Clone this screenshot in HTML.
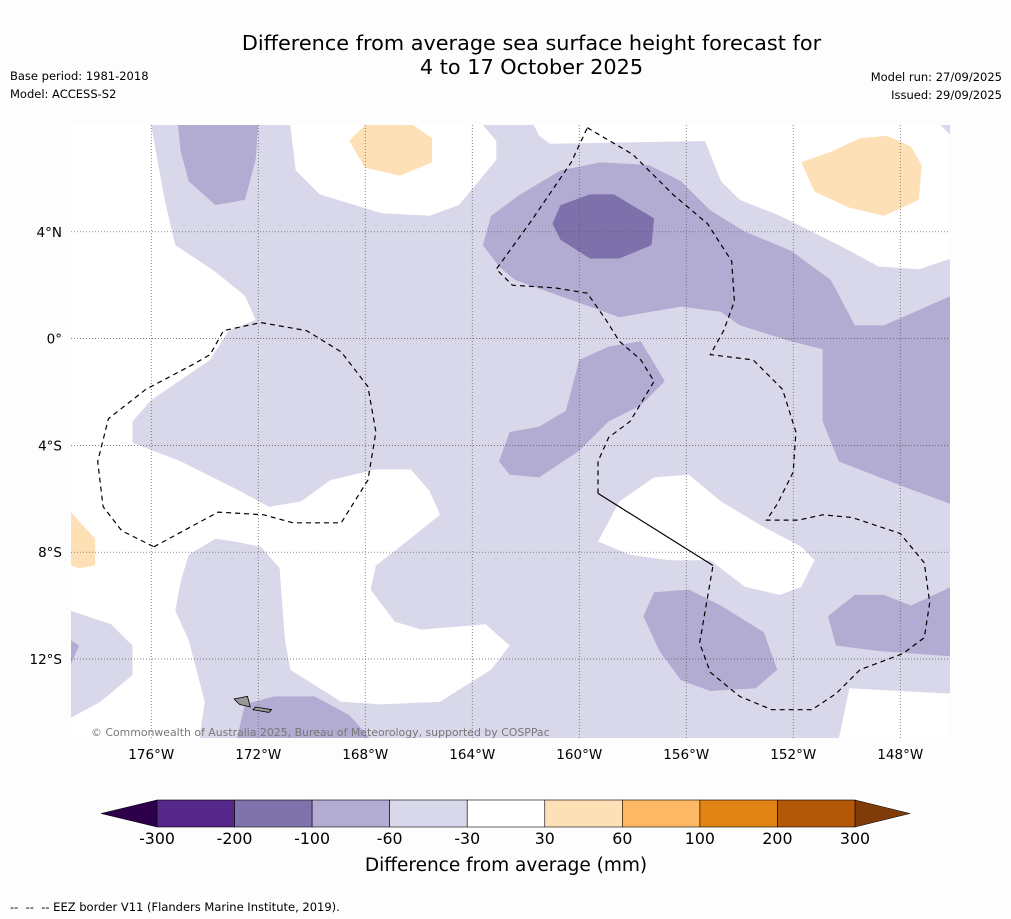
<!DOCTYPE html>
<html><head><meta charset="utf-8"><style>
body{margin:0;background:#fdfdfd;font-family:"DejaVu Sans","Liberation Sans",sans-serif;}
#wrap{position:relative;width:1011px;height:919px;overflow:hidden;background:#fdfdfd}
.t{position:absolute;color:#000;white-space:nowrap}
</style></head><body>
<div id="wrap">
<div class="t" style="left:0;width:1063px;top:31px;text-align:center;font-size:20.8px;line-height:24px">Difference from average sea surface height forecast for<br>4 to 17 October 2025</div>
<div class="t" style="left:10px;top:69px;font-size:11.5px">Base period: 1981-2018</div>
<div class="t" style="left:10px;top:87px;font-size:11.5px">Model: ACCESS-S2</div>
<div class="t" style="right:9px;top:70px;font-size:11.5px">Model run: 27/09/2025</div>
<div class="t" style="right:9px;top:88px;font-size:11.5px">Issued: 29/09/2025</div>
<svg id="svg" width="1011" height="919" style="position:absolute;left:0;top:0"></svg>
<div class="t" style="left:10px;top:900px;font-size:11.5px">--&nbsp; --&nbsp; -- EEZ border V11 (Flanders Marine Institute, 2019).</div>
</div>
<script>
const levels=[-300,-200,-100,-60,-30,30,60,100,200,300];
const levelColors=['#542788','#8073ac','#b2abd2','#d8d8ea','#ffffff','#fee0b6','#fdb863','#e08214','#b35806'];
const lonTicks=[-176,-172,-168,-164,-160,-156,-152,-148];
const latTicks=[4,0,-4,-8,-12];
const whiteAreas=[
[[-170.8,8],[-163.6,8],[-163.1,7.4],[-163.1,6.7],[-164.5,5.0],[-165.6,4.6],[-167.4,4.7],[-169.7,5.4],[-170.6,6.3]],
[[-161.7,8],[-146.5,8],[-146.1,7.6],[-146.1,3.0],[-147.3,2.6],[-148.8,2.7],[-150.3,3.5],[-152.5,4.6],[-154.0,5.2],[-154.7,5.9],[-155.3,7.4],[-161.1,7.3],[-161.5,7.6]],
[[-179,8],[-176,8],[-175.5,5.2],[-175.1,3.5],[-173.6,2.5],[-172.5,1.6],[-172.1,0.7],[-173.1,0.3],[-173.8,-0.8],[-176,-2.3],[-176.7,-3.1],[-176.7,-3.9],[-174.9,-4.6],[-172.7,-5.7],[-171.6,-6.3],[-170.4,-6.1],[-169.3,-5.3],[-167.6,-4.9],[-166.3,-4.9],[-165.6,-5.7],[-165.2,-6.6],[-166.7,-7.8],[-167.6,-8.5],[-167.8,-9.4],[-166.9,-10.6],[-165.9,-10.9],[-163.5,-10.7],[-162.6,-11.5],[-163.3,-12.4],[-165.2,-13.6],[-167.4,-13.7],[-168.9,-13.6],[-170.8,-12.4],[-171.0,-11.3],[-171.2,-8.6],[-171.9,-7.8],[-172.9,-7.6],[-173.6,-7.5],[-174.6,-8.1],[-174.9,-9.1],[-175.1,-10.2],[-174.6,-11.3],[-174.0,-13.6],[-174.2,-15],[-179,-15],[-179,-14.2],[-177.9,-13.6],[-176.7,-12.6],[-176.7,-11.5],[-177.5,-10.7],[-179,-10.2]],
[[-159.3,-7.6],[-158.5,-6.1],[-157.2,-5.2],[-155.9,-5.1],[-154.7,-6.1],[-153.2,-7.0],[-151.7,-7.8],[-151.2,-8.3],[-151.7,-9.3],[-152.5,-9.6],[-153.8,-9.3],[-155.1,-8.3],[-156.6,-8.3],[-158.1,-8.1]],
[[-149.9,-13.1],[-146.1,-13.3],[-146.1,-15],[-150.3,-15]]
];
const midPurple=[
[[-175,8],[-172,8],[-172.1,6.7],[-172.5,5.2],[-173.6,5.0],[-174.6,5.9],[-174.9,7.0]],
[[-163.6,3.5],[-163.3,4.6],[-162.2,5.4],[-160.7,6.3],[-159.2,6.6],[-157.4,6.5],[-156.2,5.9],[-155.1,4.8],[-153.8,4.0],[-152.1,3.3],[-150.6,2.2],[-149.7,0.5],[-148.6,0.5],[-146.1,1.6],[-146.1,-6.2],[-148.0,-5.5],[-150.3,-4.6],[-150.9,-3.1],[-150.9,-0.4],[-152.1,-0.1],[-154.0,0.5],[-154.7,1.0],[-156.2,1.2],[-158.5,0.8],[-159.6,1.2],[-161.3,1.8],[-162.4,2.2],[-163.0,2.7]],
[[-163.0,-4.6],[-162.6,-3.5],[-161.5,-3.3],[-160.5,-2.7],[-160.0,-0.8],[-158.9,-0.3],[-157.7,-0.1],[-156.8,-1.6],[-157.7,-2.5],[-158.9,-3.1],[-160.0,-4.2],[-161.5,-5.2],[-162.6,-5.1]],
[[-157.6,-10.4],[-157.2,-9.5],[-155.9,-9.4],[-154.7,-10.0],[-153.1,-11.0],[-152.6,-12.4],[-153.4,-13.1],[-155.1,-13.2],[-156.2,-12.8],[-157.0,-11.7]],
[[-150.7,-10.4],[-149.7,-9.6],[-148.6,-9.6],[-147.6,-10.0],[-146.1,-9.3],[-146.1,-11.9],[-148.8,-11.7],[-150.4,-11.5]],
[[-172.8,-15],[-172.5,-13.7],[-171.4,-13.4],[-169.9,-13.4],[-168.6,-14.1],[-167.8,-15]],
[[-179,-11.3],[-178.7,-11.5],[-179,-12.2]]
];
const darkPurple=[
[[-161.0,4.3],[-160.7,5.0],[-159.6,5.4],[-158.7,5.4],[-157.2,4.5],[-157.3,3.5],[-158.5,3.0],[-159.6,3.0],[-160.7,3.7]]
];
const lightOrange=[
[[-168.6,7.4],[-168.0,8],[-166.2,8],[-165.5,7.5],[-165.5,6.6],[-166.7,6.1],[-168.0,6.4]],
[[-151.7,6.6],[-150.6,7.0],[-149.5,7.5],[-148.5,7.6],[-147.6,7.2],[-147.2,6.5],[-147.3,5.2],[-148.6,4.6],[-149.9,4.9],[-151.2,5.5]],
[[-179,-6.5],[-178.1,-7.5],[-178.1,-8.5],[-178.7,-8.6],[-179,-8.5]]
];
const eezA=[[-159.7,7.9],[-158.0,6.9],[-156.5,5.4],[-155.2,4.3],[-154.3,2.9],[-154.2,1.4],[-154.6,0.3],[-155.1,-0.6],[-153.5,-0.8],[-152.4,-1.9],[-151.9,-3.5],[-152.0,-5.0],[-152.6,-6.2],[-153.0,-6.8],[-151.8,-6.8],[-150.9,-6.6],[-149.8,-6.7],[-148.0,-7.3],[-147.1,-8.4],[-146.9,-9.9],[-147.1,-11.2],[-147.9,-11.8],[-149.5,-12.4],[-150.4,-13.3],[-151.3,-13.9],[-152.8,-13.9],[-154.0,-13.4],[-155.1,-12.5],[-155.5,-11.4],[-155.0,-8.5]];
const eezSolid=[[-155.0,-8.5],[-159.3,-5.8]];
const eezB=[[-159.3,-5.8],[-159.3,-4.6],[-158.9,-3.7],[-158.1,-3.1],[-157.2,-1.6],[-157.7,-0.8],[-158.5,-0.1],[-159.0,0.7],[-159.7,1.7],[-160.9,1.9],[-162.5,2.0],[-163.1,2.6],[-161.8,4.4],[-160.3,6.6],[-159.7,7.9]];
const eezC=[[-175.9,-7.8],[-173.5,-6.5],[-171.8,-6.6],[-170.7,-6.9],[-168.9,-6.9],[-167.9,-5.3],[-167.6,-3.5],[-167.9,-1.8],[-168.9,-0.5],[-170.2,0.3],[-171.9,0.6],[-173.3,0.3],[-173.8,-0.6],[-174.5,-1.0],[-176.2,-1.9],[-177.6,-3.0],[-178.0,-4.6],[-177.8,-6.3],[-177.1,-7.2],[-175.9,-7.8]];
const islands=[[[-172.9,-13.5],[-172.4,-13.4],[-172.3,-13.8],[-172.7,-13.7]],[[-172.1,-13.8],[-171.5,-13.9],[-171.6,-14.0],[-172.2,-13.9]]];
const svg=document.getElementById('svg');const NS='http://www.w3.org/2000/svg';
const FF='DejaVu Sans, Liberation Sans, sans-serif';
const X0=71,X1=950,Y0=125,Y1=738,LON0=-179,LON1=-146.14,LAT0=8,LAT1=-14.96;
function xs(l){return X0+(l-LON0)/(LON1-LON0)*(X1-X0);}
function ys(l){return Y0+(l-LAT0)/(LAT1-LAT0)*(Y1-Y0);}
function mk(t,a,p){const e=document.createElementNS(NS,t);for(const k in a)e.setAttribute(k,a[k]);(p||svg).appendChild(e);return e;}
function pts(arr){return arr.map(p=>xs(p[0]).toFixed(1)+','+ys(p[1]).toFixed(1)).join(' ');}
const cp=mk('clipPath',{id:'mc'});mk('rect',{x:X0,y:Y0,width:X1-X0,height:Y1-Y0},cp);
const g=mk('g',{'clip-path':'url(#mc)'});


const bg=mk('rect',{x:X0,y:Y0,width:X1-X0,height:Y1-Y0,fill:levelColors[3]},g);


function fill(list,col,name){list.forEach(p=>{const e=mk('polygon',{points:pts(p),fill:col},g);

});}
fill(whiteAreas,levelColors[4],'band-near-average');
fill(midPurple,levelColors[2],'band-minus100-minus60');
fill(darkPurple,'#7e71ab','band-minus200-minus100');
fill(lightOrange,levelColors[5],'band-30-60');
lonTicks.forEach(l=>{const e=mk('line',{x1:xs(l),x2:xs(l),y1:Y0,y2:Y1,stroke:'#555','stroke-width':0.7,'stroke-dasharray':'1,2'},g);

});
latTicks.forEach(l=>{const e=mk('line',{x1:X0,x2:X1,y1:ys(l),y2:ys(l),stroke:'#555','stroke-width':0.7,'stroke-dasharray':'1,2'},g);

});
[eezA,eezB,eezC].forEach(a=>{const e=mk('polyline',{points:pts(a),fill:'none',stroke:'#000','stroke-width':1.2,'stroke-dasharray':'5,4'},g);

});
const sl=mk('polyline',{points:pts(eezSolid),fill:'none',stroke:'#000','stroke-width':1.2},g);


islands.forEach(a=>{const e=mk('polygon',{points:pts(a),fill:'#999',stroke:'#000','stroke-width':0.8},g);

});
const cr=mk('text',{x:91,y:736,'font-size':10.9,fill:'#777','font-family':FF},g);
cr.textContent='© Commonwealth of Australia 2025, Bureau of Meteorology, supported by COSPPac';


lonTicks.forEach(l=>{const e=mk('text',{x:xs(l),y:759,'font-size':13.5,'text-anchor':'middle','font-family':FF});
e.textContent=Math.abs(l)+'°W';

});
latTicks.forEach(l=>{const e=mk('text',{x:62,y:ys(l)+5,'font-size':13.5,'text-anchor':'end','font-family':FF});
e.textContent=l===0?'0°':Math.abs(l)+'°'+(l>0?'N':'S');

});
const CB0=157,CB1=855,CBY=800,CBH=27,n=levelColors.length,w=(CB1-CB0)/n;
const tl=mk('polygon',{points:`${CB0},${CBY} ${101},${CBY+CBH/2} ${CB0},${CBY+CBH}`,fill:'#2d004b',stroke:'#000','stroke-width':0.5});


const tr=mk('polygon',{points:`${CB1},${CBY} ${910},${CBY+CBH/2} ${CB1},${CBY+CBH}`,fill:'#7f3b08',stroke:'#000','stroke-width':0.5});


levelColors.forEach((c,i)=>{const e=mk('rect',{x:CB0+i*w,y:CBY,width:w,height:CBH,fill:c,stroke:'#000','stroke-width':0.6});

});
levels.forEach((v,i)=>{const e=mk('text',{x:CB0+i*w,y:844,'font-size':15.8,'text-anchor':'middle','font-family':FF});
e.textContent=v;

});
const ct=mk('text',{x:506,y:871,'font-size':18.5,'text-anchor':'middle','font-family':FF});
ct.textContent='Difference from average (mm)';


</script>
</body></html>
